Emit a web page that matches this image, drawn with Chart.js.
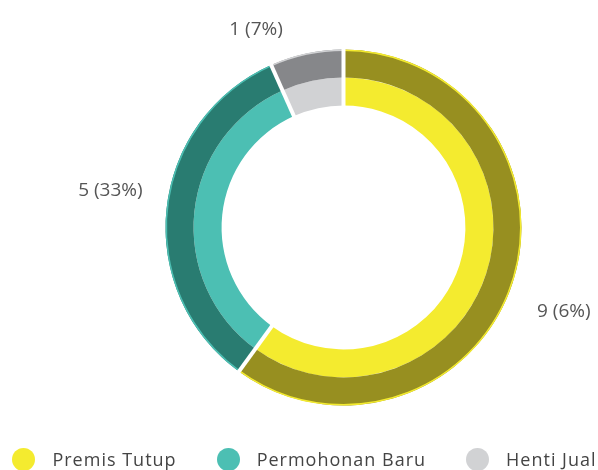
<!DOCTYPE html>
<html>
<head>
<meta charset="utf-8">
<script src="https://cdn.jsdelivr.net/npm/chart.js@4/dist/chart.umd.min.js"></script>
<style>
  html, body { margin: 0; padding: 0; background: #fff; overflow: hidden; }
  #wrap { position: relative; width: 598px; height: 470px; }
  #legend {
    position: absolute; left: 0; top: 447px; width: 598px; height: 24px;
    box-sizing: border-box; padding-left: 11px;
    display: flex; justify-content: center; gap: 40px;
    font-family: "Open Sans", sans-serif; font-size: 18px; letter-spacing: 1px;
    color: #444; line-height: 24px; white-space: nowrap;
  }
  #legend .item { display: flex; align-items: center; }
  #legend .dot { width: 23px; height: 23px; border-radius: 50%; margin-right: 17px; }
</style>
</head>
<body>
<div id="wrap">
  <canvas id="statusChart"></canvas>
  <div id="legend"></div>
</div>
<script>
// categories and counts
const categories = ["Premis Tutup", "Permohonan Baru", "Henti Jual"];
const counts = [9, 5, 1];
const percentLabels = ["6%", "33%", "7%"];

const lightColors = ["#f4eb2f", "#4cbfb3", "#d1d2d4"];
const darkColors = ["#978f20", "#297c71", "#86878a"];

// thin light rim on the outer ring, white cuts between the slices
const ringDecor = {
    id: "ringDecor",
    afterDatasetsDraw(chart) {
        const outer = chart.getDatasetMeta(0).data;
        const inner = chart.getDatasetMeta(1).data;
        const ctx = chart.ctx;
        ctx.save();
        outer.forEach((arc, i) => {
            ctx.beginPath();
            ctx.strokeStyle = lightColors[i];
            ctx.lineWidth = 1.5;
            ctx.arc(arc.x, arc.y, arc.outerRadius - 0.75, arc.startAngle, arc.endAngle);
            ctx.stroke();
        });
        ctx.strokeStyle = "#fff";
        ctx.lineWidth = 4;
        outer.forEach((arc, i) => {
            const a = arc.startAngle;
            const r0 = inner[i].innerRadius - 1;
            const r1 = arc.outerRadius + 1;
            ctx.beginPath();
            ctx.moveTo(arc.x + Math.cos(a) * r0, arc.y + Math.sin(a) * r0);
            ctx.lineTo(arc.x + Math.cos(a) * r1, arc.y + Math.sin(a) * r1);
            ctx.stroke();
        });
        ctx.restore();
    }
};

// value labels outside the ring
const valueLabels = {
    id: "valueLabels",
    afterDatasetsDraw(chart) {
        const meta = chart.getDatasetMeta(0);
        const ctx = chart.ctx;
        ctx.save();
        ctx.font = '19px "Open Sans", sans-serif';
        ctx.fillStyle = "#555";
        ctx.textAlign = "center";
        ctx.textBaseline = "middle";
        meta.data.forEach((arc, i) => {
            const mid = (arc.startAngle + arc.endAngle) / 2 + Math.PI / 60;
            let r = arc.outerRadius + 58;
            let x = arc.x + Math.cos(mid) * r;
            let y = arc.y + Math.sin(mid) * r;
            if (y < 30) {
                // keep the label inside the top edge
                r = arc.outerRadius + 38;
                const s = (30 - arc.y) / r;
                const c = Math.sqrt(1 - s * s) * Math.sign(Math.cos(mid) || -1);
                x = arc.x + c * r;
                y = 30;
            }
            ctx.fillText(counts[i] + " (" + percentLabels[i] + ")", x, y);
        });
        ctx.restore();
    }
};

const buildLegend = (chart) => {
    const box = document.getElementById("legend");
    box.innerHTML = "";
    chart.data.labels.forEach((label, i) => {
        const item = document.createElement("div");
        item.className = "item";
        const dot = document.createElement("span");
        dot.className = "dot";
        dot.style.background = lightColors[i];
        const text = document.createElement("span");
        text.textContent = label;
        item.appendChild(dot);
        item.appendChild(text);
        box.appendChild(item);
    });
};

const ctx = document.getElementById("statusChart");
const chart = new Chart(ctx, {
    type: "doughnut",
    data: {
        labels: categories,
        datasets: [
            {
                data: counts,
                backgroundColor: darkColors,
                borderWidth: 0
            },
            {
                data: counts,
                backgroundColor: lightColors,
                borderWidth: 0
            }
        ]
    },
    options: {
        responsive: true,
        maintainAspectRatio: false,
        animation: false,
        radius: 178,
        cutout: "68.5%",
        layout: { padding: { left: 89, top: 0, right: 0, bottom: 15 } },
        plugins: {
            legend: { display: false },
            tooltip: { enabled: false }
        }
    },
    plugins: [ringDecor, valueLabels]
});
buildLegend(chart);
</script>
</body>
</html>
